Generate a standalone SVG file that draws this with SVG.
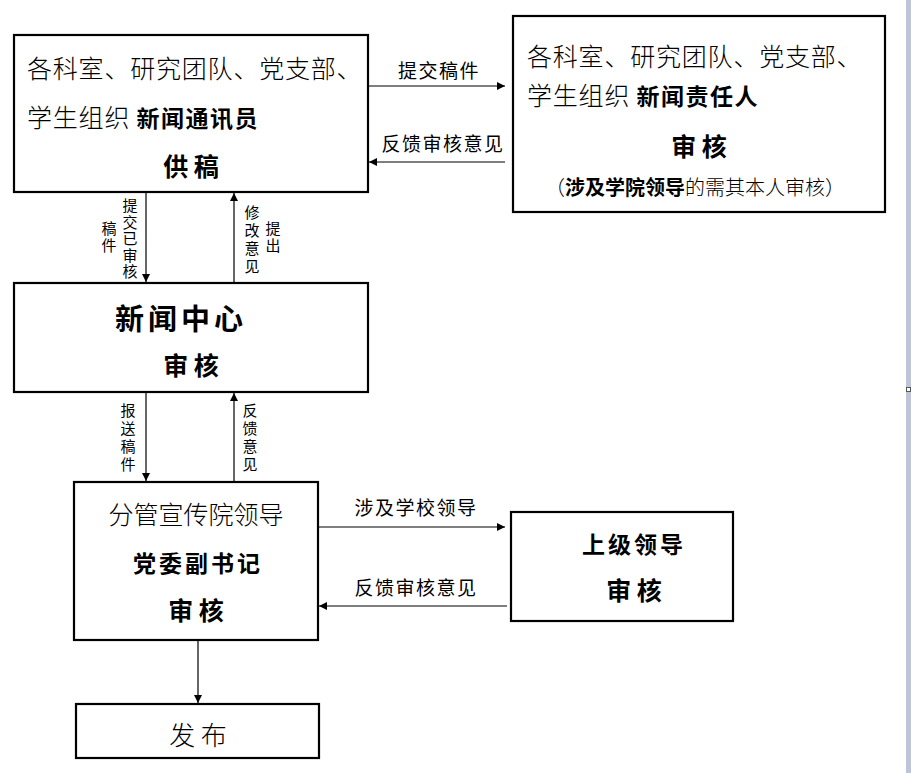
<svg xmlns="http://www.w3.org/2000/svg" width="911" height="773" viewBox="0 0 911 773">
<defs>
<style>
.box{fill:#fff;stroke:#000;stroke-width:2.2}
.ln{stroke:#000;stroke-width:1.2;fill:none}
text{font-family:"Noto Sans CJK SC","Liberation Serif",sans-serif;fill:#000}
.reg{font-weight:300}
.b{font-weight:700}
.lb{font-size:19px;font-weight:400;letter-spacing:1.5px}
.vt{font-size:15px;font-weight:400;writing-mode:tb;letter-spacing:1.5px}
.vw{letter-spacing:3px}
</style>
<marker id="ah" viewBox="0 0 10 10" refX="10" refY="5" markerWidth="8" markerHeight="8" markerUnits="userSpaceOnUse" orient="auto">
<path d="M0,0 L10,5 L0,10 z" fill="#000"/>
</marker>
</defs>
<rect x="0" y="0" width="911" height="773" fill="#fff"/>
<rect x="906" y="0" width="5" height="773" fill="#bcc6d8"/>
<rect x="906.5" y="387.5" width="4" height="4" fill="#fff" stroke="#555" stroke-width="1"/>

<g id="connectors">
<line class="ln" x1="368" y1="86" x2="505" y2="86" marker-end="url(#ah)"/>
<line class="ln" x1="505" y1="162" x2="369" y2="162" marker-end="url(#ah)"/>
<line class="ln" x1="146" y1="193" x2="146" y2="282" marker-end="url(#ah)"/>
<line class="ln" x1="234" y1="282" x2="234" y2="193" marker-end="url(#ah)"/>
<line class="ln" x1="146" y1="393" x2="146" y2="481" marker-end="url(#ah)"/>
<line class="ln" x1="234" y1="481" x2="234" y2="393" marker-end="url(#ah)"/>
<line class="ln" x1="318" y1="527" x2="505" y2="527" marker-end="url(#ah)"/>
<line class="ln" x1="507" y1="606" x2="319" y2="606" marker-end="url(#ah)"/>
<line class="ln" x1="198" y1="641" x2="198" y2="703" marker-end="url(#ah)"/>
<text class="lb" x="439" y="78" text-anchor="middle">提交稿件</text>
<text class="lb" x="443" y="151" text-anchor="middle">反馈审核意见</text>
<text class="lb" x="416" y="515" text-anchor="middle">涉及学校领导</text>
<text class="lb" x="416" y="595" text-anchor="middle">反馈审核意见</text>
<text class="vt" x="130" y="198">提交已审核</text>
<text class="vt" x="109" y="221">稿件</text>
<text class="vt vw" x="252" y="205">修改意见</text>
<text class="vt" x="273" y="221">提出</text>
<text class="vt vw" x="128" y="403">报送稿件</text>
<text class="vt vw" x="250" y="403">反馈意见</text>
</g>

<g id="node1">
<rect class="box" x="14" y="35" width="354" height="157"/>
<text class="reg" x="27" y="78" font-size="25" letter-spacing="0.8">各科室、研究团队、党支部、</text>
<text x="27" y="127" font-size="25"><tspan class="reg" letter-spacing="0.8">学生组织 </tspan><tspan class="b" font-size="23" letter-spacing="1.5">新闻通讯员</tspan></text>
<text class="b" x="191" y="176" font-size="25" text-anchor="middle">供 稿</text>
</g>

<g id="node2">
<rect class="box" x="513" y="16" width="372" height="196"/>
<text class="reg" x="527" y="66" font-size="25" letter-spacing="0.8">各科室、研究团队、党支部、</text>
<text x="527" y="105" font-size="25"><tspan class="reg" letter-spacing="0.8">学生组织 </tspan><tspan class="b" font-size="23" letter-spacing="1.5">新闻责任人</tspan></text>
<text class="b" x="699" y="156" font-size="25" text-anchor="middle">审 核</text>
<text x="695" y="195" font-size="20" text-anchor="middle"><tspan class="reg">（</tspan><tspan class="b">涉及学院领导</tspan><tspan class="reg">的需其本人审核）</tspan></text>
</g>

<g id="node3">
<rect class="box" x="14" y="283" width="354" height="109"/>
<text class="b" x="181" y="330" font-size="29" letter-spacing="4" text-anchor="middle">新闻中心</text>
<text class="b" x="191" y="375" font-size="25" text-anchor="middle">审 核</text>
</g>

<g id="node4">
<rect class="box" x="74" y="482" width="244" height="158"/>
<text class="reg" x="196" y="524" font-size="25" text-anchor="middle">分管宣传院领导</text>
<text class="b" x="198" y="572" font-size="23" letter-spacing="3" text-anchor="middle">党委副书记</text>
<text class="b" x="196" y="620" font-size="25" text-anchor="middle">审 核</text>
</g>

<g id="node5">
<rect class="box" x="511" y="512" width="222" height="109"/>
<text class="b" x="634" y="553" font-size="23" letter-spacing="3" text-anchor="middle">上级领导</text>
<text class="b" x="634" y="600" font-size="25" text-anchor="middle">审 核</text>
</g>

<g id="node6">
<rect class="box" x="76" y="704" width="243" height="54"/>
<text class="reg" x="198" y="745" font-size="26" text-anchor="middle">发 布</text>
</g>
</svg>
